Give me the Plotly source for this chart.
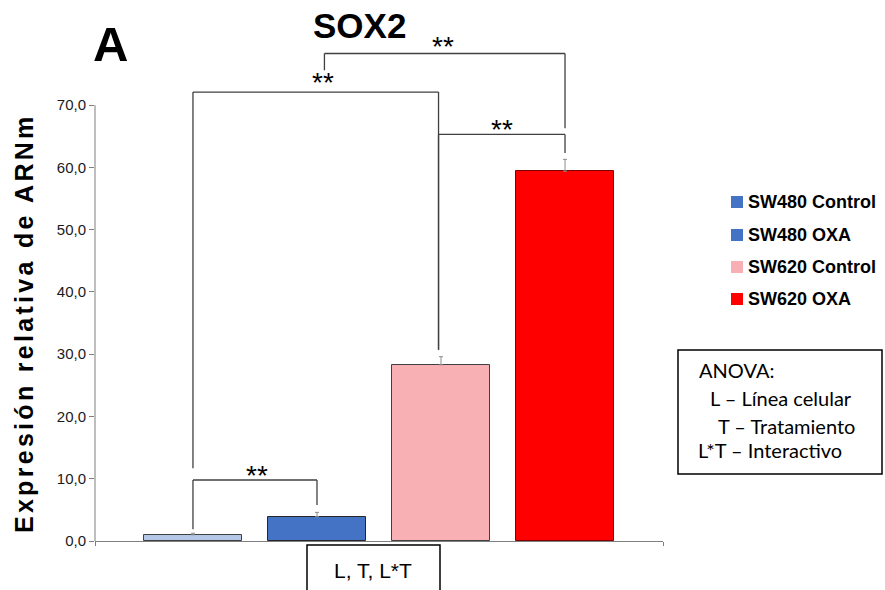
import plotly.graph_objects as go

# Mean relative SOX2 mRNA expression and error for each group
groups = ["SW480 Control", "SW480 OXA", "SW620 Control", "SW620 OXA"]
means = [1.0, 3.9, 28.3, 59.4]
errors = [0.25, 0.7, 1.3, 1.9]
fill_colors = ["#B4C7E7", "#4472C4", "#F8B0B4", "#FF0000"]
edge_colors = ["#404040", "#262626", "#404040", "#7F0000"]
legend_colors = ["#4472C4", "#4472C4", "#F8B0B4", "#FF0000"]
y_ticks = [0, 10, 20, 30, 40, 50, 60, 70]

# Significance brackets: (x_left, x_right, y_bar, y_left_end, y_right_end, x_star, y_star)
brackets = [
    (0, 1, 9.8, 1.9, 5.8, 0.52, 10.6),
    (0, 1.98, 72.1, 11.7, 30.7, 1.05, 73.6),
    (1.98, 3, 65.3, 30.7, 62.3, 2.49, 66.1),
    (1.06, 3, 78.3, 75.6, 66.3, 2.02, 79.4),
]

x_pos = list(range(len(groups)))
x_range = [-0.79, 3.79]
y_range = [0, 84]

# plot area in pixels: x 95..663, y 18..541
def px(x):
    return (x - 95) / 568

def py(y):
    return (541 - y) / 523

fig = go.Figure()
fig.add_trace(go.Bar(
    x=x_pos, y=means, width=0.79,
    marker=dict(color=fill_colors, line=dict(color=edge_colors, width=1)),
    error_y=dict(type="data", array=errors, symmetric=False, arrayminus=[0] * 4,
                 color="#8C8C8C", thickness=1, width=2),
    showlegend=False, hoverinfo="skip",
))

shapes = []
# y axis line only up to 70
shapes.append(dict(type="line", xref="paper", yref="y", x0=0, x1=0, y0=0, y1=70,
                   line=dict(color="#7F7F7F", width=1)))

annotations = []
for xl, xr, yb, yl, yr, xs, ys in brackets:
    pts = [(xl, yl), (xl, yb), (xr, yb), (xr, yr)]
    for (a, b), (c, d) in zip(pts[:-1], pts[1:]):
        shapes.append(dict(type="line", xref="x", yref="y", x0=a, y0=b, x1=c, y1=d,
                           line=dict(color="#404040", width=1.3)))
    annotations.append(dict(x=xs, y=ys, xref="x", yref="y", text="**", showarrow=False,
                            xanchor="center", yanchor="middle",
                            font=dict(family="Arial", size=28, color="#000000")))

# Y axis title, centred on the 0-70 span of the axis
annotations.append(dict(x=px(24), y=35, xref="paper", yref="y", textangle=-90,
                        text="<span style='letter-spacing:3.3px'><b>Expresión relativa de ARNm</b></span>",
                        showarrow=False, xanchor="center", yanchor="middle",
                        font=dict(family="Arial", size=25, color="#000000")))

# Titles
annotations.append(dict(x=px(359), y=py(4), xref="paper", yref="paper",
                        text="<b>SOX2</b>", showarrow=False, xanchor="center", yanchor="top",
                        font=dict(family="Arial", size=35, color="#000000")))
annotations.append(dict(x=px(110), y=py(15), xref="paper", yref="paper",
                        text="<b>A</b>", showarrow=False, xanchor="center", yanchor="top",
                        font=dict(family="Arial", size=49, color="#000000")))

# Legend drawn as coloured squares plus bold labels
leg_y = [202, 235, 267, 299]
for name, col, yy in zip(groups, legend_colors, leg_y):
    shapes.append(dict(type="rect", xref="paper", yref="paper",
                       x0=px(731), x1=px(743), y0=py(yy + 6), y1=py(yy - 6),
                       fillcolor=col, line=dict(width=0)))
    annotations.append(dict(x=px(746), y=py(yy), xref="paper", yref="paper",
                            text="<b>" + name + "</b>", showarrow=False,
                            xanchor="left", yanchor="middle",
                            font=dict(family="Arial", size=18, color="#000000")))

# ANOVA box
shapes.append(dict(type="rect", xref="paper", yref="paper",
                   x0=px(678), x1=px(882), y0=py(474), y1=py(350),
                   line=dict(color="#000000", width=1.5), fillcolor="rgba(0,0,0,0)"))
anova_lines = [("ANOVA:", 697, 370), ("L – Línea celular", 708, 398),
               ("T – Tratamiento", 716, 426), ("L*T – Interactivo", 696, 450)]
for txt, xx, yy in anova_lines:
    annotations.append(dict(x=px(xx), y=py(yy), xref="paper", yref="paper",
                            text=txt, showarrow=False, xanchor="left", yanchor="middle",
                            font=dict(family="Lato", size=20, color="#000000")))

# Effects box under the axis
shapes.append(dict(type="rect", xref="paper", yref="paper",
                   x0=px(307), x1=px(440), y0=py(600), y1=py(545),
                   line=dict(color="#000000", width=1.5), fillcolor="rgba(0,0,0,0)"))
annotations.append(dict(x=px(373), y=py(570), xref="paper", yref="paper",
                        text="L, T, L*T", showarrow=False, xanchor="center", yanchor="middle",
                        font=dict(family="Arial", size=21, color="#000000")))

fig.update_layout(
    width=885, height=590,
    margin=dict(l=95, r=222, t=18, b=49),
    paper_bgcolor="white", plot_bgcolor="white",
    separators=",.",
    bargap=0,
    shapes=shapes, annotations=annotations,
    xaxis=dict(range=x_range, showgrid=False, zeroline=False, showline=True,
               linecolor="#7F7F7F", linewidth=1, tickvals=x_range, ticks="outside",
               ticklen=4, tickcolor="#7F7F7F", showticklabels=False),
    yaxis=dict(range=y_range, showgrid=False, zeroline=False, showline=False,
               tickvals=y_ticks, tickformat=".1f", ticks="outside", ticklen=5,
               tickcolor="#7F7F7F", tickfont=dict(family="Arial", size=15, color="#1a1a1a")),
)

fig.write_html("out.html")
